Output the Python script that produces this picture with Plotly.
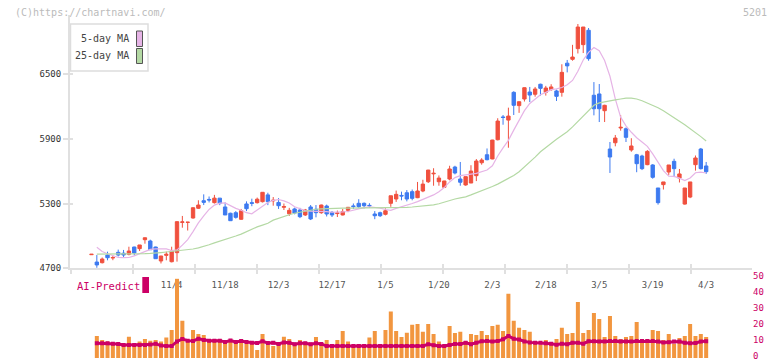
import pandas as pd
import plotly.graph_objects as go

# ---------------- data ----------------
holidays = ["2025-10-13", "2025-11-03", "2025-11-24", "2025-12-31", "2026-01-01",
            "2026-01-02", "2026-01-12", "2026-02-11", "2026-02-23", "2026-03-20"]
dates = pd.bdate_range("2025-10-10", "2026-04-03", freq="C", holidays=holidays)
date_str = [d.strftime("%Y-%m-%d") for d in dates]

label_dates = ["2025-11-04", "2025-11-18", "2025-12-03", "2025-12-17", "2026-01-05", "2026-01-20",
               "2026-02-03", "2026-02-18", "2026-03-05", "2026-03-19", "2026-04-03"]
label_text = ["11/4", "11/18", "12/3", "12/17", "1/5", "1/20", "2/3", "2/18", "3/5", "3/19", "4/3"]

open_ = [4826, 4758, 4752, 4823, 4795, 4848, 4840, 4830, 4897, 4882,
         4965, 4953, 4897, 4768, 4820, 4761, 4845, 5125, 5125, 5166,
         5256, 5326, 5338, 5308, 5350, 5268, 5210, 5215, 5154, 5296,
         5308, 5308, 5317, 5380, 5325, 5310, 5265, 5205, 5250, 5240,
         5194, 5268, 5247, 5215, 5277, 5218, 5207, 5194, 5237, 5278,
         5302, 5302, 5283, 5203, 5215, 5200, 5302, 5342, 5375, 5400,
         5410, 5354, 5416, 5502, 5575, 5502, 5450, 5527, 5638, 5527,
         5472, 5490, 5558, 5678, 5752, 5713, 5891, 6102, 6073, 6330,
         6207, 6268, 6333, 6312, 6405, 6330, 6355, 6343, 6330, 6600,
         6636, 6735, 6772, 6905, 6303, 6315, 6160, 5805, 5863, 6000,
         5993, 5796, 5752, 5740, 5660, 5657, 5444, 5475, 5592, 5691,
         5536, 5295, 5360, 5660, 5805, 5648]
high = [4832, 4823, 4800, 4854, 4820, 4873, 4870, 4900, 4900, 4916,
        4985, 4965, 4900, 4815, 4854, 4900, 5135, 5185, 5130, 5265,
        5330, 5385, 5365, 5380, 5350, 5310, 5215, 5230, 5250, 5320,
        5345, 5355, 5405, 5400, 5360, 5350, 5300, 5260, 5262, 5260,
        5250, 5286, 5286, 5290, 5290, 5230, 5235, 5250, 5268, 5300,
        5340, 5310, 5303, 5230, 5225, 5255, 5372, 5420, 5410, 5425,
        5430, 5500, 5520, 5612, 5627, 5560, 5510, 5650, 5650, 5685,
        5550, 5655, 5712, 5720, 5810, 5890, 6090, 6120, 6188, 6340,
        6245, 6375, 6380, 6380, 6410, 6390, 6405, 6355, 6590, 6630,
        6770, 6963, 6935, 6926, 6425, 6407, 6215, 5870, 5935, 6120,
        6005, 5905, 5760, 5752, 5795, 5665, 5444, 5500, 5657, 5715,
        5620, 5444, 5500, 5745, 5815, 5685]
low = [4824, 4705, 4745, 4774, 4775, 4810, 4805, 4820, 4820, 4860,
       4928, 4870, 4788, 4745, 4774, 4755, 4762, 5076, 5050, 5160,
       5250, 5286, 5310, 5300, 5285, 5194, 5140, 5160, 5150, 5230,
       5275, 5300, 5310, 5285, 5280, 5250, 5240, 5185, 5200, 5165,
       5185, 5147, 5172, 5205, 5180, 5175, 5175, 5190, 5220, 5250,
       5260, 5255, 5260, 5155, 5175, 5190, 5270, 5315, 5330, 5320,
       5330, 5350, 5405, 5490, 5465, 5465, 5450, 5515, 5570, 5465,
       5465, 5490, 5508, 5660, 5700, 5710, 5885, 6030, 5817, 6120,
       6140, 6245, 6240, 6290, 6300, 6300, 6345, 6250, 6290, 6515,
       6623, 6690, 6694, 6623, 6117, 6055, 6055, 5583, 5830, 5975,
       5870, 5780, 5590, 5610, 5655, 5530, 5290, 5430, 5565, 5545,
       5495, 5290, 5350, 5605, 5615, 5575]
close = [4830, 4731, 4786, 4798, 4800, 4823, 4823, 4860, 4842, 4916,
         4983, 4872, 4789, 4814, 4830, 4860, 5132, 5130, 5127, 5261,
         5286, 5311, 5333, 5350, 5302, 5194, 5141, 5172, 5234, 5252,
         5302, 5340, 5404, 5317, 5330, 5280, 5272, 5237, 5212, 5178,
         5240, 5157, 5215, 5286, 5203, 5194, 5212, 5224, 5265, 5272,
         5271, 5280, 5279, 5187, 5187, 5233, 5372, 5385, 5370, 5342,
         5348, 5416, 5480, 5610, 5580, 5536, 5509, 5620, 5583, 5497,
         5549, 5601, 5694, 5703, 5706, 5888, 6064, 6097, 6110, 6210,
         6243, 6373, 6305, 6361, 6367, 6370, 6380, 6293, 6515, 6575,
         6657, 6935, 6935, 6642, 6178, 6178, 6210, 5731, 5907, 6006,
         5913, 5833, 5669, 5623, 5783, 5543, 5308, 5500, 5657, 5623,
         5574, 5444, 5500, 5722, 5623, 5595]

ma5 = [None, 4895, 4855, 4835, 4815, 4800, 4798, 4800, 4815, 4835,
       4855, 4875, 4880, 4882, 4880, 4865, 4870, 4915, 4965, 5040,
       5120, 5185, 5245, 5285, 5303, 5306, 5280, 5255, 5238, 5215,
       5205, 5240, 5275, 5310, 5330, 5337, 5325, 5305, 5270, 5250,
       5235, 5230, 5230, 5230, 5225, 5219, 5218, 5222, 5226, 5240,
       5254, 5262, 5270, 5266, 5258, 5245, 5237, 5255, 5268, 5285,
       5300, 5318, 5340, 5360, 5380, 5410, 5448, 5500, 5540, 5558,
       5568, 5573, 5580, 5595, 5611, 5650, 5740, 5815, 5885, 5980,
       6070, 6160, 6227, 6268, 6308, 6330, 6355, 6362, 6375, 6400,
       6440, 6525, 6630, 6700, 6745, 6715, 6625, 6479, 6270, 6100,
       6020, 5960, 5910, 5870, 5830, 5760, 5680, 5605, 5553, 5552,
       5535, 5512, 5537, 5585, 5590, 5583]
ma25 = [None, 4832, 4832, 4831, 4831, 4832, 4833, 4833, 4834, 4835,
        4836, 4838, 4840, 4846, 4851, 4856, 4860, 4863, 4870, 4879,
        4889, 4900, 4918, 4936, 4950, 4965, 4982, 4999, 5017, 5040,
        5062, 5084, 5100, 5117, 5146, 5164, 5180, 5196, 5210, 5219,
        5230, 5240, 5247, 5250, 5253, 5256, 5257, 5257, 5258, 5258,
        5258, 5258, 5259, 5259, 5260, 5260, 5261, 5262, 5263, 5265,
        5268, 5272, 5278, 5283, 5287, 5298, 5314, 5330, 5342, 5352,
        5362, 5380, 5398, 5420, 5440, 5458, 5480, 5505, 5535, 5560,
        5595, 5640, 5680, 5730, 5780, 5820, 5858, 5895, 5930, 5965,
        6010, 6060, 6110, 6165, 6210, 6232, 6243, 6250, 6260, 6268,
        6277, 6276, 6268, 6252, 6232, 6212, 6188, 6160, 6125, 6095,
        6062, 6030, 5995, 5960, 5920, 5880]

volume = [None, 13.8, 11.3, 10.3, 8.8, 8.2, 8.2, 13.4, 8.2, 10.3,
          11.9, 10.9, 11.3, 10.3, 12.8, 17.6, 49.7, 23.3, 10.3, 17.6,
          15.1, 14.5, 10.3, 11.9, 11.9, 10.3, 11.3, 10.3, 10.3, 8.8,
          10.3, 5.0, 15.1, 8.2, 7.5, 9.2, 13.4, 11.9, 8.8, 11.3,
          9.2, 9.6, 13.2, 8.8, 11.3, 8.8, 11.3, 17.0, 10.3, 7.5,
          8.8, 7.5, 12.8, 17.0, 8.8, 17.6, 29.1, 17.0, 13.2, 15.9,
          20.8, 21.4, 16.4, 21.4, 15.1, 10.3, 7.5, 20.1, 15.7, 16.4,
          10.7, 15.1, 14.5, 17.0, 14.5, 20.1, 20.8, 17.0, 40.3, 23.3,
          18.9, 17.6, 16.4, 10.7, 8.2, 11.3, 8.2, 11.9, 18.9, 15.1,
          15.7, 35.2, 15.7, 17.6, 28.3, 24.5, 13.2, 26.4, 13.8, 11.9,
          13.2, 13.8, 22.6, 10.7, 11.9, 17.6, 17.0, 11.3, 15.1, 8.8,
          12.6, 13.8, 21.4, 13.8, 15.1, 13.2]
ai_predict = [None, 9.2, 9.2, 9.2, 9.0, 8.8, 8.2, 8.2, 8.2, 8.2,
              8.2, 8.4, 8.9, 7.8, 7.5, 7.5, 10.4, 11.9, 10.9, 10.7,
              12.0, 11.3, 10.9, 10.9, 10.9, 10.0, 11.0, 10.0, 10.7, 10.0,
              9.6, 9.4, 10.5, 9.4, 9.6, 8.8, 9.8, 9.6, 8.7, 9.2,
              9.2, 8.7, 9.2, 8.8, 7.5, 7.5, 7.5, 7.5, 7.5, 7.5,
              7.5, 7.5, 7.5, 7.5, 7.5, 7.5, 7.5, 7.5, 7.5, 7.5,
              7.5, 7.5, 7.5, 8.6, 8.0, 7.6, 7.6, 8.2, 8.8, 8.8,
              9.6, 8.6, 9.6, 10.5, 10.7, 10.3, 10.7, 11.7, 13.8, 12.0,
              11.6, 10.4, 9.8, 9.6, 9.6, 9.2, 9.0, 8.3, 9.0, 8.6,
              9.6, 9.6, 9.0, 10.5, 10.5, 10.3, 10.3, 10.6, 10.6, 10.3,
              10.3, 10.3, 10.6, 10.6, 10.6, 10.6, 10.3, 9.8, 9.9, 10.3,
              10.3, 9.6, 9.2, 9.4, 10.3, 10.5]

price_ticks = [4700, 5300, 5900, 6500]
vol_ticks = [0, 10, 20, 30, 40, 50]

# ---------------- styling ----------------
W, H = 772, 361
ML, MR = 70, 20
PW = W - ML - MR
FONT = "DejaVu Sans Mono"
RED, BLUE = "#F0503E", "#3D7AF0"
PINK, GREEN = "#E6B4E6", "#B4D9A4"
MAGENTA, ORANGE = "#CC0066", "#F2963F"
AXIS = "#E0E0E0"


def px_x(p):
    return (p - ML) / PW


def px_y(p):
    return 1 - p / H


x_range = [-4.02, -4.02 + PW / 5.345]
y_range = [4700, 4700 + (268.3 - 15) * 600 / 64.77]

fig = go.Figure()
fig.add_trace(go.Candlestick(
    x=date_str, open=open_, high=high, low=low, close=close,
    increasing=dict(line=dict(color=RED, width=1), fillcolor=RED),
    decreasing=dict(line=dict(color=BLUE, width=1), fillcolor=BLUE),
    whiskerwidth=0, showlegend=False, xaxis="x", yaxis="y"))
fig.add_trace(go.Scatter(x=date_str, y=ma5, mode="lines", line=dict(color=PINK, width=1.2),
                         showlegend=False, xaxis="x", yaxis="y"))
fig.add_trace(go.Scatter(x=date_str, y=ma25, mode="lines", line=dict(color=GREEN, width=1.2),
                         showlegend=False, xaxis="x", yaxis="y"))
fig.add_trace(go.Bar(x=date_str, y=volume, marker=dict(color=ORANGE, line=dict(width=0)),
                     width=0.75, showlegend=False, xaxis="x", yaxis="y2"))
fig.add_trace(go.Scatter(x=date_str, y=ai_predict, mode="lines+markers",
                         line=dict(color=MAGENTA, width=3),
                         marker=dict(color=MAGENTA, size=4, symbol="square"),
                         showlegend=False, xaxis="x", yaxis="y2"))
# dummy traces so overlay tick axes render
fig.add_trace(go.Scatter(x=[None], y=[None], xaxis="x3", yaxis="y", showlegend=False))
fig.add_trace(go.Scatter(x=[None], y=[None], xaxis="x4", yaxis="y3", showlegend=False))

main_dom = [px_y(268.3), px_y(15)]
vol_dom = [px_y(358), px_y(278.3)]

tick_style = dict(range=x_range, showgrid=False, zeroline=False, showticklabels=False,
                  automargin=False, tick0=(70.7 - 91.5) / 5.345, dtick=62 / 5.345,
                  tickcolor=AXIS, tickwidth=2)

fig.update_layout(
    width=W, height=H, margin=dict(l=ML, r=MR, t=0, b=0, autoexpand=False),
    paper_bgcolor="white", plot_bgcolor="white",
    boxgap=0.1,
    font=dict(family=FONT),
    xaxis=dict(type="category", range=x_range, anchor="y", showgrid=False, zeroline=False,
               automargin=False, showline=True, linecolor=AXIS, linewidth=2,
               tickmode="array", tickvals=label_dates, ticktext=label_text,
               ticks="outside", ticklen=7, tickcolor="rgba(0,0,0,0)",
               tickfont=dict(family=FONT, size=9, color="#555555"),
               rangeslider=dict(visible=False)),
    xaxis3=dict(overlaying="x", anchor="y", ticks="outside", ticklen=5, **tick_style),
    xaxis4=dict(overlaying="x", anchor="y3", ticks="inside", ticklen=4, **tick_style),
    yaxis=dict(domain=main_dom, range=y_range, anchor="x", automargin=False,
               showgrid=False, zeroline=False, showline=True, linecolor=AXIS, linewidth=2,
               tickvals=price_ticks, ticks="outside", ticklen=5, tickcolor=AXIS, tickwidth=2,
               tickfont=dict(family=FONT, size=9, color="#333333")),
    yaxis3=dict(domain=main_dom, range=y_range, overlaying="y", automargin=False,
                anchor="x", showgrid=False, zeroline=False, showticklabels=False,
                tickvals=price_ticks, ticks="inside", ticklen=3, tickcolor=AXIS, tickwidth=2),
    yaxis2=dict(domain=vol_dom, range=[0, 50], anchor="x", side="right", automargin=False,
                showgrid=False, zeroline=False, showline=False,
                tickvals=vol_ticks, ticks="", ticklabeloverflow="allow", ticklabelshift=-2,
                tickfont=dict(family=FONT, size=9, color=MAGENTA)),
)

shapes = [
    dict(type="rect", xref="paper", yref="paper", x0=px_x(70.5), x1=px_x(148), y0=px_y(71), y1=px_y(24),
         line=dict(color="#DDDDDD", width=1.5), fillcolor="white", layer="above"),
    dict(type="rect", xref="paper", yref="paper", x0=px_x(136.5), x1=px_x(142.5), y0=px_y(46.5), y1=px_y(31),
         line=dict(color="#555555", width=1), fillcolor=PINK, layer="above"),
    dict(type="rect", xref="paper", yref="paper", x0=px_x(136.5), x1=px_x(142.5), y0=px_y(63.5), y1=px_y(48.5),
         line=dict(color="#555555", width=1), fillcolor=GREEN, layer="above"),
    dict(type="rect", xref="paper", yref="paper", x0=px_x(142.3), x1=px_x(149), y0=px_y(293), y1=px_y(277),
         line=dict(width=0), fillcolor=MAGENTA, layer="above"),
]
fig.update_layout(shapes=shapes)

ann = [
    dict(text="(C)https://chartnavi.com/", x=px_x(13), y=px_y(12), xanchor="left", yanchor="middle",
         font=dict(family=FONT, size=10, color="#BBBBBB")),
    dict(text="5201", x=px_x(769), y=px_y(12), xanchor="right", yanchor="middle",
         font=dict(family=FONT, size=10, color="#BBBBBB")),
    dict(text="5-day MA", x=px_x(131), y=px_y(39), xanchor="right", yanchor="middle",
         font=dict(family=FONT, size=10, color="#444444")),
    dict(text="25-day MA", x=px_x(131), y=px_y(56), xanchor="right", yanchor="middle",
         font=dict(family=FONT, size=10, color="#444444")),
    dict(text="AI-Predict", x=px_x(75), y=px_y(286), xanchor="left", yanchor="middle",
         font=dict(family=FONT, size=10.5, color=MAGENTA)),
]
for a in ann:
    a.update(xref="paper", yref="paper", showarrow=False)
fig.update_layout(annotations=ann)

fig.write_html("out.html", config={"displayModeBar": False},
               post_script="document.body.style.margin='0';document.body.style.overflow='hidden';")
